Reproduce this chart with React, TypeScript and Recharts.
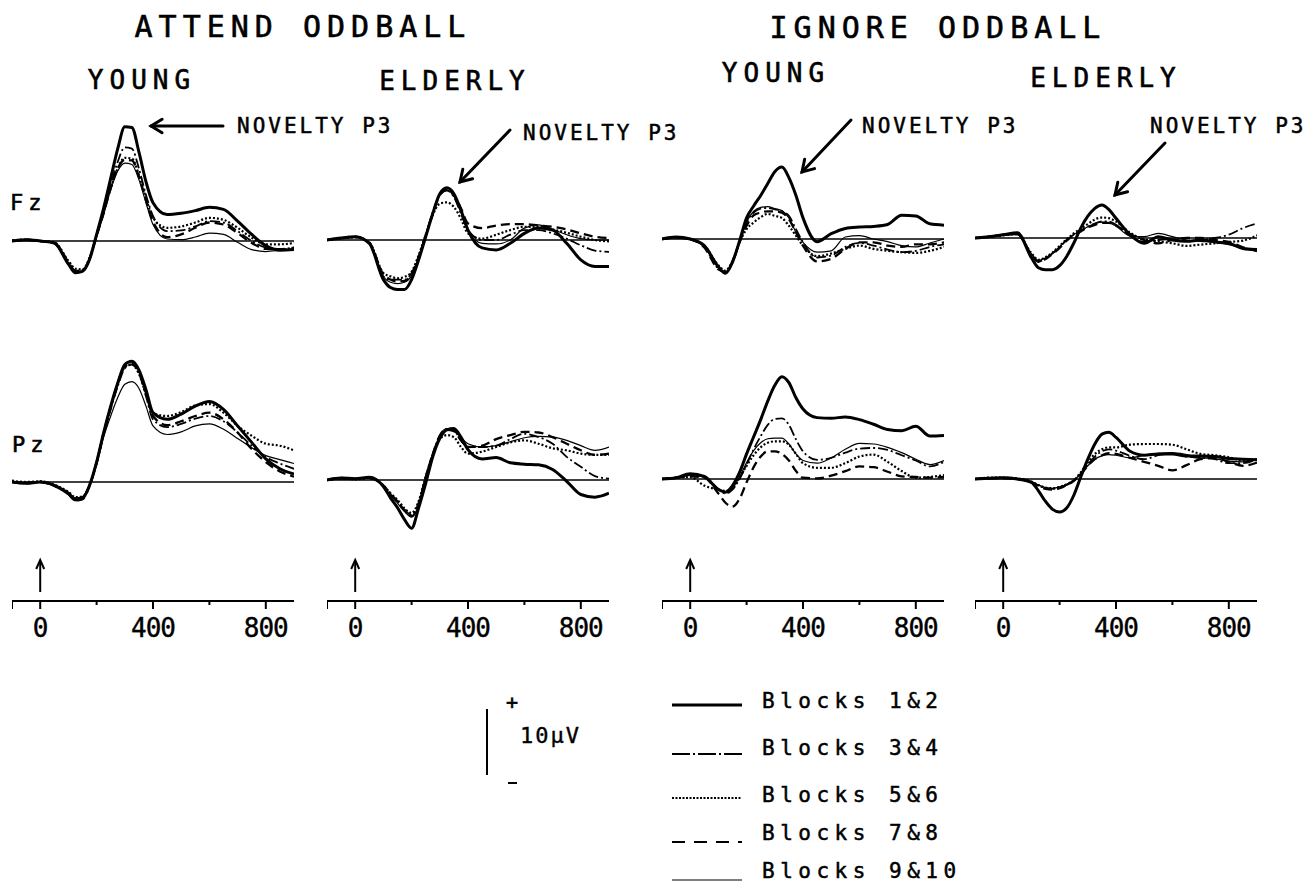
import React from 'react';
import { LineChart, Line, XAxis, YAxis, ReferenceLine } from 'recharts';

// sample times (ms) shared by every waveform
const times = [-100, -50, 0, 50, 100, 125, 150, 175, 200, 225, 250, 275, 300, 325, 350, 375, 400, 450, 500, 550, 600, 650, 700, 750, 800, 850, 900];

const seriesNames = ['Blocks 1&2', 'Blocks 3&4', 'Blocks 5&6', 'Blocks 7&8', 'Blocks 9&10'];
const seriesKeys = ['b12', 'b34', 'b56', 'b78', 'b910'];

const timeTicks = [-100, 0, 200, 400, 600, 800];
const timeLabels = [0, 400, 800];

// µV values, one row per block pair (1&2, 3&4, 5&6, 7&8, 9&10)
const attendYoungFz = [
  [0, 0.2, 0, -0.3, -3.5, -4.8, -4.6, -2.8, 1, 5, 9.5, 14, 17.3, 17.2, 13.5, 9, 5.8, 4, 4.2, 4.6, 5.1, 4.8, 3, 1, -0.7, -1.4, -1.3],
  [0, 0.1, 0, -0.3, -3.3, -4.5, -4.4, -2.6, 1, 4.6, 8.5, 12, 14.2, 14, 11, 7, 3.8, 1.5, 1.6, 2.2, 3, 2.8, 1.5, 0, -1, -1.2, -1],
  [0.1, 0.2, 0, -0.2, -3, -4.2, -4.3, -2.5, 0.9, 4.4, 8, 11, 12.6, 12.5, 10, 6.5, 3.5, 2, 2.2, 2.8, 3.5, 3.2, 2, 0.5, -0.5, -0.5, -0.3],
  [0, 0.2, 0, -0.3, -3.2, -4.6, -4.5, -2.7, 0.8, 4.2, 8, 11, 12.3, 12.2, 9.8, 6.2, 3, 0.6, 1, 2, 2.8, 2.5, 1.2, -0.3, -1.2, -1.3, -1],
  [0, 0.1, 0, -0.4, -3.5, -4.7, -4.6, -2.8, 0.6, 4, 7.8, 10.6, 11.8, 11.6, 9.3, 5.8, 2.5, 0.3, 0.2, 0.6, 1.2, 1, -0.2, -1.3, -1.6, -1.4, -1.2],
];
const attendYoungPz = [
  [0, -0.2, 0, -0.5, -1.8, -2.7, -2.5, -0.5, 3, 7.5, 11.5, 15, 17.8, 18.3, 17, 14, 10.5, 9.5, 10.3, 11.5, 12.2, 11, 8.5, 6, 3.5, 2, 1.2],
  [0, -0.1, 0, -0.6, -1.6, -2.5, -2.3, -0.6, 2.8, 7.2, 11, 14.5, 17.2, 17.8, 16.5, 13, 9.5, 8.3, 8.8, 9.6, 10, 9.2, 7.5, 5.5, 3.8, 2.8, 2],
  [0.2, 0, 0.1, -0.4, -1.5, -2.3, -2.2, -0.5, 3, 7.3, 11.2, 14.8, 17.4, 17.8, 16.4, 13.3, 10.4, 10, 10.6, 11.6, 11.8, 10.5, 8.5, 7, 5.8, 5.5, 4.8],
  [0, -0.2, 0, -0.6, -1.8, -2.8, -2.6, -0.6, 2.9, 7.4, 11.4, 15, 17.5, 18, 16.8, 13.5, 10, 8.6, 9.2, 10, 10.5, 9.5, 7.5, 5, 3, 1.6, 0.8],
  [0, -0.1, 0, -0.5, -1.6, -2.4, -2.2, -0.4, 2.6, 6.8, 10, 12.8, 14.8, 15.2, 14.2, 11.5, 8.5, 7.2, 7.6, 8.5, 8.8, 8, 6.6, 5.2, 4, 3.4, 2.8],
];

const attendElderlyFz = [
  [0, 0.3, 0.5, -0.5, -6, -7.2, -7.5, -7.5, -6, -3, 0.5, 4, 7, 7.9, 7, 4.5, 1.5, -1.2, -1.5, -0.5, 1, 1.8, 1.5, -0.5, -3, -4, -4],
  [0, 0.3, 0.5, -0.4, -5.5, -6, -6, -6, -5, -2.5, 0.8, 4.2, 6.8, 7.5, 6.5, 4, 1.5, 0, 0, 0.8, 1.5, 1.5, 1, 0.2, -0.8, -1.6, -1.8],
  [0, 0.2, 0.4, -0.4, -5, -5.5, -5.8, -5.6, -4.8, -2.3, 0.8, 3.8, 5.5, 5.7, 5, 3.2, 1, 0.2, 0.8, 1.5, 2, 2, 1.6, 1.1, 0.5, 0, -0.2],
  [0, 0.3, 0.5, -0.4, -5.2, -6, -6.3, -6.2, -5.2, -2.6, 0.6, 4, 6.8, 7.6, 6.8, 4.8, 2.5, 1.8, 2.2, 2.4, 2.4, 2.2, 2, 1.6, 1, 0.5, 0.3],
  [0, 0.2, 0.4, -0.5, -5.6, -6.4, -6.6, -6.4, -5.4, -2.6, 0.6, 4, 7, 7.6, 6.6, 4.2, 1.4, -0.5, -0.6, 0, 1.8, 2.3, 1.6, 0.8, 0.2, 0, 0],
];
const attendElderlyPz = [
  [0, 0.3, 0.2, 0.4, -1, -2.7, -4.2, -6, -7.3, -4.2, -0.5, 3.5, 6.3, 7.6, 7.8, 6.5, 4.6, 3.2, 3.4, 2.6, 2.4, 2.3, 1.6, -0.2, -2.2, -2.6, -2],
  [0, 0.2, 0.2, 0.3, -0.8, -2, -3.2, -4.5, -5.3, -3.5, 0.5, 4, 6.8, 7.7, 7.5, 6, 5, 5, 5.2, 6.2, 7, 6.5, 5.5, 3.5, 2, 0.6, 0.2],
  [0, 0.2, 0.1, 0.3, -0.8, -2, -3, -4.3, -5, -3.2, 0.5, 3.8, 6.2, 6.8, 6.5, 5, 4, 4.3, 5, 5.7, 6, 5.5, 4.8, 4.5, 4, 3.8, 3.8],
  [0, 0.3, 0.2, 0.3, -0.9, -2.2, -3.3, -4.6, -5.5, -3.6, 0.4, 3.9, 6.6, 7.6, 7.4, 6, 5, 5.2, 6.2, 6.8, 7.3, 7.2, 6.5, 5.5, 4.5, 3.8, 4],
  [0, 0.2, 0.2, 0.3, -1, -2.3, -3.5, -4.8, -5.6, -3.8, 0.2, 3.8, 6.8, 7.8, 7.6, 6.4, 5.5, 5, 5.2, 5.8, 6.4, 6.6, 6.5, 6, 5.2, 4.5, 5],
];

const ignoreYoungFz = [
  [0, 0.3, 0, -1, -4.2, -5.2, -3.5, -0.3, 3.2, 5, 6.6, 8.4, 10.2, 10.9, 9.3, 6.6, 3.2, -0.4, 0.8, 1.6, 1.8, 1.9, 2.2, 3.6, 3.5, 2.3, 2.1],
  [0, 0.2, 0, -1.2, -4.5, -5, -3.5, -0.5, 2.5, 4, 4.6, 4.7, 4.5, 4.2, 3.5, 1.5, -0.5, -2.8, -2.5, -1.2, -0.6, -1, -1.6, -2, -1.8, -1.2, -0.8],
  [0, 0.3, 0, -1, -4, -4.8, -3.3, -0.5, 1.5, 2.5, 3.3, 3.8, 3.5, 3.2, 2, 0.5, -1, -2.6, -2.2, -1.5, -1, -1.5, -1.8, -2, -2.1, -1.8, -1.2],
  [0, 0.2, 0, -1.3, -4.6, -5, -3.5, -0.5, 2, 3.6, 4, 4.2, 4.2, 4, 3, 1, -1, -3.4, -3, -1.5, -0.5, -0.5, -1, -1.2, -0.8, -0.8, -0.5],
  [0, 0.3, 0, -1.2, -4.3, -5, -3.4, -0.4, 2.6, 4.2, 4.8, 4.9, 4.6, 4.3, 3.2, 1, -0.5, -2, -1.8, 0.3, 0.5, 0, -0.4, -1, -1.2, -0.6, 0],
];
const ignoreYoungPz = [
  [0, 0.2, 0.8, 0.4, -1.6, -2, -1, 1, 3.8, 6.4, 9, 11.8, 14.2, 15.5, 14.6, 12.3, 10.6, 9.3, 9.2, 9.4, 9, 8.3, 7.5, 7.3, 8, 6.5, 6.6],
  [0, 0.2, 0.6, 0.3, -1.5, -2.2, -1.6, 0, 2.2, 4.5, 6.5, 8.2, 9.1, 9.2, 8.2, 6, 4.2, 2.9, 3.2, 4, 4.6, 4.7, 4.4, 3.6, 2.8, 1.9, 2.6],
  [0, 0.2, 0.3, -1, -1.6, -1.8, -1.4, 0.2, 2, 3.6, 4.8, 5.5, 5.7, 5.7, 5.2, 3.8, 2.4, 1.7, 1.7, 2.4, 3.4, 3.7, 2.6, 1.2, 0.2, 0.3, 0.6],
  [0, 0.2, 0.4, 0.2, -2.2, -3.6, -4.2, -3, -0.5, 1.8, 3.4, 4.2, 4.2, 3.8, 2.8, 1.2, 0.2, 0.1, 0.5, 1.2, 1.9, 1.8, 1.1, 0.4, 0.3, 0.2, 0.3],
  [0, 0.2, 0.6, 0.3, -1.5, -2, -1.4, 0.3, 2.5, 4.3, 5.5, 6.1, 6.2, 6.2, 5.3, 3.8, 2.8, 2.4, 3.2, 4.5, 5.4, 5.3, 4.8, 4, 3, 2.2, 2.8],
];

const ignoreElderlyFz = [
  [0, 0.2, 0.5, 0.8, -3, -4.5, -4.8, -4.8, -4.2, -2.8, -0.8, 1.5, 3.3, 4.5, 5, 4.3, 3, 0.5, -0.8, 0.2, -0.3, -0.5, -0.3, -0.6, -0.8, -1.6, -1.8],
  [0, 0.2, 0.5, 0.6, -2.5, -3.6, -3.1, -2.3, -1.4, -0.3, 0.5, 1.1, 1.7, 2.2, 2.5, 2.5, 2, 0.3, -0.6, -0.3, -0.2, -0.5, -0.3, 0, 0.5, 1.5, 2.2],
  [0, 0.2, 0.4, 0.6, -2.3, -3.3, -2.9, -2.2, -1.2, -0.2, 0.7, 1.4, 2.1, 2.8, 3.1, 3, 2.5, 0.8, -0.2, -0.5, -0.8, -1.2, -1, -0.8, -0.6, -0.4, 0.4],
  [0, 0.2, 0.5, 0.6, -2.6, -3.6, -3.2, -2.4, -1.5, -0.4, 0.4, 1, 1.6, 2, 2.3, 2.3, 1.9, 0.6, -0.3, -0.8, -0.3, 0, 0, -0.3, -0.6, -1.4, -2],
  [0, 0.1, 0.4, 0.5, -2.4, -3.4, -3, -2.3, -1.3, -0.3, 0.5, 1.1, 1.7, 2.2, 2.4, 2.3, 1.8, 0.3, 0.2, 0.7, 0.2, -0.3, -0.5, -0.6, -1, -1.5, -1.6],
];
const ignoreElderlyPz = [
  [0, 0.1, 0.2, 0, -0.5, -1.8, -3.4, -4.6, -5, -4.4, -2.5, 0.3, 3, 5.3, 6.8, 7.1, 6.3, 4.2, 3.6, 3.8, 3.8, 3.5, 3.5, 3.4, 3.1, 3, 2.9],
  [0, 0.1, 0.2, 0, -0.5, -1, -1.4, -1.5, -1.3, -0.9, -0.3, 0.8, 2.2, 3.4, 4.2, 4.5, 4.3, 3.5, 3, 3.6, 3.8, 3.4, 3.2, 3, 2.4, 2.4, 3],
  [0, 0.2, 0.2, 0.1, -0.4, -0.9, -1.3, -1.4, -1.2, -0.8, -0.2, 1, 2.5, 3.8, 4.5, 4.8, 4.8, 5.2, 5.3, 5.3, 5.2, 4.5, 3.8, 3.6, 3.3, 2.8, 3],
  [0, 0.1, 0.1, 0, -0.5, -1, -1.5, -1.6, -1.4, -0.9, -0.3, 0.7, 2, 3, 3.6, 3.9, 3.8, 3.2, 2.6, 2, 1.3, 2.1, 3, 3.2, 2.6, 2, 2.5],
  [0, 0.1, 0.2, 0, -0.4, -0.9, -1.3, -1.4, -1.2, -0.8, -0.2, 0.8, 2, 3, 3.5, 3.7, 3.6, 3.2, 3.6, 3.9, 4, 3.7, 3.2, 3.1, 2.7, 2.6, 2.9],
];

const PX_PER_UV = 6.6;
const PLOT_TOP = 100;
const AXIS_Y = 601;
const PANEL_W = 282;
const FONT = "'DejaVu Sans Mono', monospace";

const columns = [
  { left: 12, fzBase: 241, pzBase: 482, fz: attendYoungFz, pz: attendYoungPz },
  { left: 327, fzBase: 240, pzBase: 480, fz: attendElderlyFz, pz: attendElderlyPz },
  { left: 662, fzBase: 239, pzBase: 479, fz: ignoreYoungFz, pz: ignoreYoungPz },
  { left: 975, fzBase: 238, pzBase: 479, fz: ignoreElderlyFz, pz: ignoreElderlyPz },
];

const lineStyles = [
  { width: 3, dash: undefined },
  { width: 1.8, dash: '10 3 2 3' },
  { width: 2.2, dash: '2 2' },
  { width: 2.3, dash: '9 5' },
  { width: 1.2, dash: undefined },
];
const legendDash = [undefined, '18 3 2 3', '2 1.5', '13 9', undefined];

function TimeTick(props: any) {
  const { x, y, payload } = props;
  const v = payload.value;
  const major = v !== 200 && v !== 600;
  return (
    <g>
      <line x1={x} y1={y} x2={x} y2={y + (major ? 8 : 4)} stroke="#000" strokeWidth={2} />
      {v === 0 && (
        <g stroke="#000" strokeWidth={2} fill="none">
          <line x1={x} y1={y - 9} x2={x} y2={y - 40} />
          <polyline points={`${x - 4},${y - 32} ${x},${y - 41} ${x + 4},${y - 32}`} />
        </g>
      )}
      {timeLabels.includes(v) && (
        <text x={x} y={y + 36} textAnchor="middle" fontFamily={FONT} fontSize={26} letterSpacing={-1} fill="#000" stroke="#000" strokeWidth={0.4}>
          {v}
        </text>
      )}
    </g>
  );
}

function Column({ col }: { col: any }) {
  const data = times.map((t, i) => {
    const row: any = { t };
    seriesKeys.forEach((k, s) => {
      row['fz_' + k] = col.fz[s][i];
      row['pz_' + k] = col.pz[s][i];
    });
    return row;
  });
  const fzDomain = [-(AXIS_Y - col.fzBase) / PX_PER_UV, (col.fzBase - PLOT_TOP) / PX_PER_UV];
  const pzDomain = [-(AXIS_Y - col.pzBase) / PX_PER_UV, (col.pzBase - PLOT_TOP) / PX_PER_UV];

  const lines: any[] = [];
  ['fz', 'pz'].forEach((site) => {
    seriesKeys.forEach((k, s) => {
      lines.push(
        <Line
          key={site + k}
          yAxisId={site}
          dataKey={site + '_' + k}
          type="monotone"
          stroke="#000"
          strokeWidth={lineStyles[s].width}
          strokeDasharray={lineStyles[s].dash}
          strokeLinejoin="round"
          dot={false}
          isAnimationActive={false}
        />
      );
    });
  });

  return (
    <div style={{ position: 'absolute', left: col.left, top: PLOT_TOP }}>
      <LineChart width={PANEL_W} height={AXIS_Y - PLOT_TOP + 50} data={data} margin={{ top: 0, right: 0, bottom: 0, left: 0 }}>
        <XAxis
          dataKey="t"
          type="number"
          domain={[-100, 900]}
          ticks={timeTicks}
          interval={0}
          tick={(p: any) => <TimeTick {...p} />}
          tickLine={false}
          tickSize={0}
          tickMargin={0}
          height={50}
          axisLine={{ stroke: '#000', strokeWidth: 2 }}
          allowDataOverflow
        />
        <YAxis yAxisId="fz" hide type="number" domain={fzDomain} allowDataOverflow />
        <YAxis yAxisId="pz" hide type="number" domain={pzDomain} allowDataOverflow />
        <ReferenceLine yAxisId="fz" y={0} stroke="#000" strokeWidth={1.6} />
        <ReferenceLine yAxisId="pz" y={0} stroke="#000" strokeWidth={1.6} />
        {lines}
      </LineChart>
    </div>
  );
}

function Arrow({ x1, y1, x2, y2 }: { x1: number; y1: number; x2: number; y2: number }) {
  // arrow from (x1,y1) to head at (x2,y2)
  const ang = Math.atan2(y1 - y2, x1 - x2);
  const len = 13;
  const a1 = ang + 0.55;
  const a2 = ang - 0.55;
  return (
    <g stroke="#000" strokeWidth={3} fill="none" strokeLinecap="round">
      <line x1={x1} y1={y1} x2={x2} y2={y2} />
      <polyline
        points={`${x2 + len * Math.cos(a1)},${y2 + len * Math.sin(a1)} ${x2},${y2} ${x2 + len * Math.cos(a2)},${y2 + len * Math.sin(a2)}`}
      />
    </g>
  );
}

export default function App() {
  const heavy = { fontFamily: FONT, fill: '#000', stroke: '#000', strokeWidth: 0.6 };
  const mid = { ...heavy, textAnchor: 'middle' as const };
  const legendY = [705, 754, 798, 842, 880];
  const legendTextY = [708, 755, 802, 840, 878];
  return (
    <div style={{ position: 'absolute', left: 0, top: 0, width: 1311, height: 884, background: '#fff' }}>
      {columns.map((c, i) => (
        <Column key={i} col={c} />
      ))}
      <svg width={1311} height={884} style={{ position: 'absolute', left: 0, top: 0, pointerEvents: 'none' }}>
        <text x={303} y={37} fontSize={30} letterSpacing={6} {...mid}>ATTEND ODDBALL</text>
        <text x={938} y={38} fontSize={30} letterSpacing={6} {...mid}>IGNORE ODDBALL</text>
        <text x={142} y={89} fontSize={26} letterSpacing={6} {...mid}>YOUNG</text>
        <text x={455} y={90} fontSize={26} letterSpacing={6} {...mid}>ELDERLY</text>
        <text x={776} y={82} fontSize={26} letterSpacing={6} {...mid}>YOUNG</text>
        <text x={1106} y={87} fontSize={26} letterSpacing={6} {...mid}>ELDERLY</text>

        <text x={10} y={210} fontSize={22} letterSpacing={5} {...heavy}>Fz</text>
        <text x={12} y={452} fontSize={22} letterSpacing={5} {...heavy}>Pz</text>

        {[
          { tx: 237, ty: 133, a: [223, 126, 151, 126] },
          { tx: 523, ty: 140, a: [510, 130, 460, 182] },
          { tx: 862, ty: 133, a: [851, 120, 802, 172] },
          { tx: 1150, ty: 133, a: [1165, 143, 1115, 195] },
        ].map((n, i) => (
          <g key={i}>
            <text x={n.tx} y={n.ty} fontSize={21} letterSpacing={3} {...heavy} strokeWidth={0.5}>NOVELTY P3</text>
            <Arrow x1={n.a[0]} y1={n.a[1]} x2={n.a[2]} y2={n.a[3]} />
          </g>
        ))}

        {/* calibration bar */}
        <line x1={487} y1={709} x2={487} y2={775} stroke="#000" strokeWidth={2} />
        <text x={512} y={709} fontSize={20} {...mid}>+</text>
        <text x={520} y={743} fontSize={22} letterSpacing={2} {...heavy} strokeWidth={0.4}>10µV</text>
        <line x1={508} y1={783} x2={517} y2={783} stroke="#000" strokeWidth={2} />

        {seriesNames.map((name, i) => (
          <g key={name}>
            <line
              x1={672}
              y1={legendY[i]}
              x2={742}
              y2={legendY[i]}
              stroke="#000"
              strokeWidth={i === 0 ? 3 : i === 4 ? 1.2 : 2}
              strokeDasharray={legendDash[i]}
            />
            <text x={762} y={legendTextY[i]} fontSize={21} letterSpacing={5.5} {...heavy} strokeWidth={0.5}>{name}</text>
          </g>
        ))}
      </svg>
    </div>
  );
}
